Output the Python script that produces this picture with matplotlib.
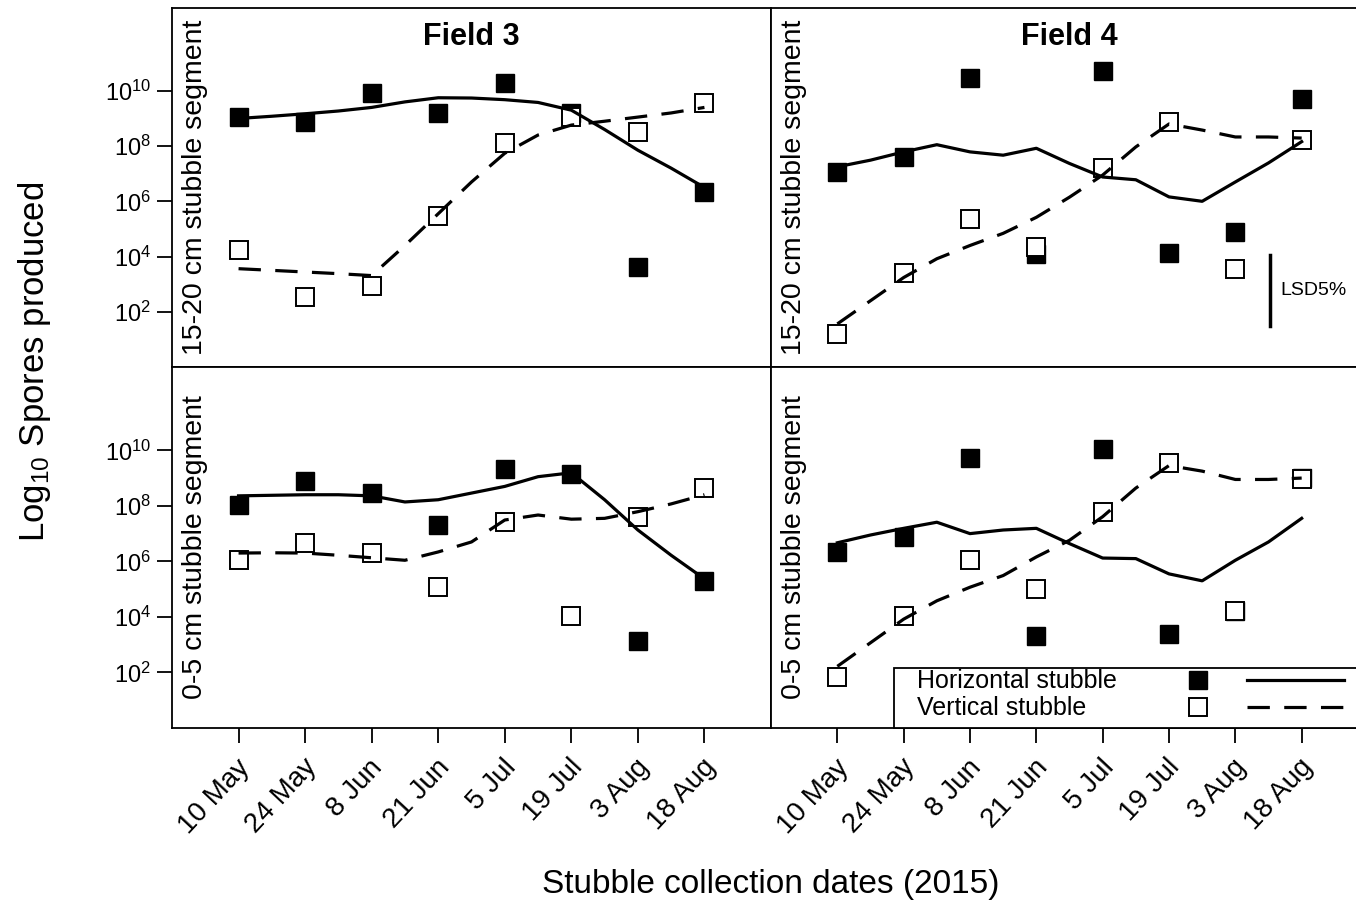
import numpy as np
import matplotlib.pyplot as plt
from matplotlib.lines import Line2D
from matplotlib.legend_handler import HandlerTuple
from matplotlib.patches import Rectangle
from matplotlib.transforms import ScaledTranslation

plt.rcParams['font.family'] = 'Liberation Sans'
plt.rcParams['mathtext.fontset'] = 'custom'
plt.rcParams['mathtext.rm'] = 'Liberation Sans'
plt.rcParams['mathtext.it'] = 'Liberation Sans:italic'

dates = ['10 May', '24 May', '8 Jun', '21 Jun', '5 Jul', '19 Jul', '3 Aug', '18 Aug']
fit_x = [1, 1.5, 2, 2.5, 3, 3.5, 4, 4.5, 5, 5.5, 6, 6.5, 7, 7.5, 8]

# log10 spores, Field 3, 15-20 cm segment
f3_top_h = [9.07, 8.88, 9.94, 9.21, 10.28, 9.20, 3.61, 6.34]
f3_top_v = [4.22, 2.52, 2.92, 5.45, 8.10, 9.07, 8.52, 9.57]
f3_top_h_fit = [9.00, 9.08, 9.17, 9.27, 9.40, 9.60, 9.75, 9.74, 9.68, 9.58, 9.30, 8.60, 7.85, 7.20, 6.50]
f3_top_v_fit = [3.56, 3.50, 3.44, 3.38, 3.31, 4.40, 5.55, 6.70, 7.74, 8.40, 8.76, 8.90, 9.05, 9.20, 9.40]

# Field 4, 15-20 cm segment
f4_top_h = [7.07, 7.61, 10.46, 4.11, 10.73, 4.14, 4.88, 9.70]
f4_top_v = [1.20, 3.41, 5.37, 4.36, 7.19, 8.88, 3.55, 8.22]
f4_top_h_fit = [7.25, 7.49, 7.79, 8.05, 7.79, 7.67, 7.92, 7.37, 6.88, 6.78, 6.16, 6.00, 6.70, 7.39, 8.16]
f4_top_v_fit = [1.56, 2.40, 3.24, 3.92, 4.40, 4.84, 5.42, 6.15, 6.95, 7.97, 8.80, 8.58, 8.33, 8.33, 8.29]

# Field 3, 0-5 cm segment
f3_bot_h = [8.04, 8.88, 8.46, 7.31, 9.31, 9.13, 3.13, 5.31]
f3_bot_v = [6.04, 6.67, 6.31, 5.07, 7.43, 4.04, 7.59, 8.64]
f3_bot_h_fit = [8.36, 8.38, 8.40, 8.40, 8.36, 8.14, 8.22, 8.46, 8.70, 9.05, 9.19, 8.22, 7.13, 6.22, 5.37]
f3_bot_v_fit = [6.30, 6.31, 6.30, 6.22, 6.13, 6.04, 6.34, 6.70, 7.49, 7.67, 7.52, 7.55, 7.79, 8.07, 8.40]

# Field 4, 0-5 cm segment
f4_bot_h = [6.34, 6.88, 9.71, 3.33, 10.04, 3.37, 4.22, 9.00]
f4_bot_v = [1.85, 4.04, 6.04, 5.00, 7.79, 9.53, 4.22, 8.95]
f4_bot_h_fit = [6.67, 6.95, 7.19, 7.41, 7.00, 7.13, 7.19, 6.64, 6.12, 6.10, 5.55, 5.30, 6.04, 6.70, 7.55]
f4_bot_v_fit = [2.22, 3.07, 3.92, 4.58, 5.07, 5.49, 6.16, 6.76, 7.61, 8.64, 9.45, 9.25, 8.95, 8.95, 9.00]

lsd_x = 7.53
lsd_range = [1.5, 4.05]

W, H = 1356, 911
fig = plt.figure(figsize=(W / 100, H / 100), dpi=100)


def box(x0, y0, x1, y1):
    return [x0 / W, 1 - y1 / H, (x1 - x0) / W, (y1 - y0) / H]


ax_tl = fig.add_axes(box(172, 8, 771, 367))
ax_tr = fig.add_axes(box(771, 8, 1368, 367))
ax_bl = fig.add_axes(box(172, 367, 771, 728))
ax_br = fig.add_axes(box(771, 367, 1368, 728))

panels = [
    (ax_tl, f3_top_h, f3_top_v, f3_top_h_fit, f3_top_v_fit, '15-20 cm stubble segment'),
    (ax_tr, f4_top_h, f4_top_v, f4_top_h_fit, f4_top_v_fit, '15-20 cm stubble segment'),
    (ax_bl, f3_bot_h, f3_bot_v, f3_bot_h_fit, f3_bot_v_fit, '0-5 cm stubble segment'),
    (ax_br, f4_bot_h, f4_bot_v, f4_bot_h_fit, f4_bot_v_fit, '0-5 cm stubble segment'),
]

x = np.arange(1, 9)
for ax, h, v, hfit, vfit, side in panels:
    ax.plot(x, 10 ** np.array(h), 's', color='black', ms=13, mec='black', zorder=3)
    ax.plot(x, 10 ** np.array(v), 's', mfc='white', mec='black', ms=13, mew=1.4, zorder=4)
    ax.plot(fit_x, 10 ** np.array(hfit), '-', color='black', lw=2.3, zorder=5)
    ax.plot(fit_x, 10 ** np.array(vfit), color='black', lw=2.3, dashes=(7, 4.5), zorder=5)
    ax.set_yscale('log')
    ax.set_ylim(1, 1e13)
    ax.set_xlim(0, 9)
    ax.minorticks_off()
    for s in ax.spines.values():
        s.set_linewidth(1.3)
    ax.text(23 / 599, 0.5, side, transform=ax.transAxes, rotation=90,
            ha='center', va='center', fontsize=20.5)
    ax.tick_params(direction='out', length=11, width=1.3, labelsize=17)

for ax in (ax_tl, ax_bl):
    ax.set_yticks([1e2, 1e4, 1e6, 1e8, 1e10])
    ax.set_yticklabels(['$10^{2}$', '$10^{4}$', '$10^{6}$', '$10^{8}$', '$10^{10}$'])
    ax.tick_params(axis='y', pad=4)
for ax in (ax_tr, ax_br):
    ax.set_yticks([])
for ax in (ax_tl, ax_tr):
    ax.set_xticks([])
shift = ScaledTranslation(7 / 100, -6 / 100, fig.dpi_scale_trans)
for ax in (ax_bl, ax_br):
    ax.set_xticks(x)
    ax.set_xticklabels(dates, rotation=47, ha='right', va='center',
                       rotation_mode='anchor', fontsize=20)
    ax.tick_params(axis='x', pad=10)
    for lab in ax.get_xticklabels():
        lab.set_transform(lab.get_transform() + shift)

ax_tl.text(0.5, 0.919, 'Field 3', transform=ax_tl.transAxes, ha='center', va='center',
           fontsize=22, fontweight='bold')
ax_tr.text(0.5, 0.919, 'Field 4', transform=ax_tr.transAxes, ha='center', va='center',
           fontsize=22, fontweight='bold')

# LSD bar
ax_tr.plot([lsd_x, lsd_x], [10 ** lsd_range[0], 10 ** lsd_range[1]], color='black', lw=2.5)
ax_tr.text(lsd_x + 0.15, 10 ** np.mean(lsd_range), 'LSD5%', ha='left', va='center', fontsize=14)

# legend: frame, labels, then symbols
ax_br.add_patch(Rectangle(((894 - 771) / 597, 0), 0.9, (728 - 668) / 361,
                          transform=ax_br.transAxes, facecolor='white', edgecolor='black',
                          lw=1.3, zorder=6, clip_on=False))
labels = ['Horizontal stubble', 'Vertical stubble']
blank = Line2D([], [], ls='none')
leg_top = (728 - 668) / 361
leg_txt = ax_br.legend([blank, blank], labels, loc='upper left',
                       bbox_to_anchor=((916 - 771) / 597, leg_top),
                       frameon=False, fontsize=18, handlelength=0, handletextpad=0,
                       borderpad=0, borderaxespad=0.05, labelspacing=0.12)
leg_txt.set_zorder(7)
ax_br.add_artist(leg_txt)

h_mark = Line2D([], [], marker='s', ls='none', color='black', ms=13)
h_line = Line2D([], [], ls='-', color='black', lw=2.3)
v_mark = Line2D([], [], marker='s', ls='none', mfc='white', mec='black', ms=13, mew=1.4)
v_line = Line2D([], [], color='black', lw=2.3, dashes=(7, 4.5))
leg_sym = ax_br.legend([(h_mark, h_line), (v_mark, v_line)], ['', ''],
                       handler_map={tuple: HandlerTuple(ndivide=None, pad=0)},
                       loc='upper left', bbox_to_anchor=((1148 - 771) / 597, leg_top),
                       frameon=False, fontsize=18, numpoints=1, handlelength=7.8,
                       handletextpad=0, borderpad=0, borderaxespad=0.05, labelspacing=0.12)
leg_sym.set_zorder(7)

fig.text(35 / W, 1 - 362 / H, 'Log$_{10}$ Spores produced', rotation=90, ha='center',
         va='center', fontsize=25)
fig.text(771 / W, 1 - 885 / H, 'Stubble collection dates (2015)', ha='center', va='center',
         fontsize=24)

fig.savefig('out.png', dpi=100)
